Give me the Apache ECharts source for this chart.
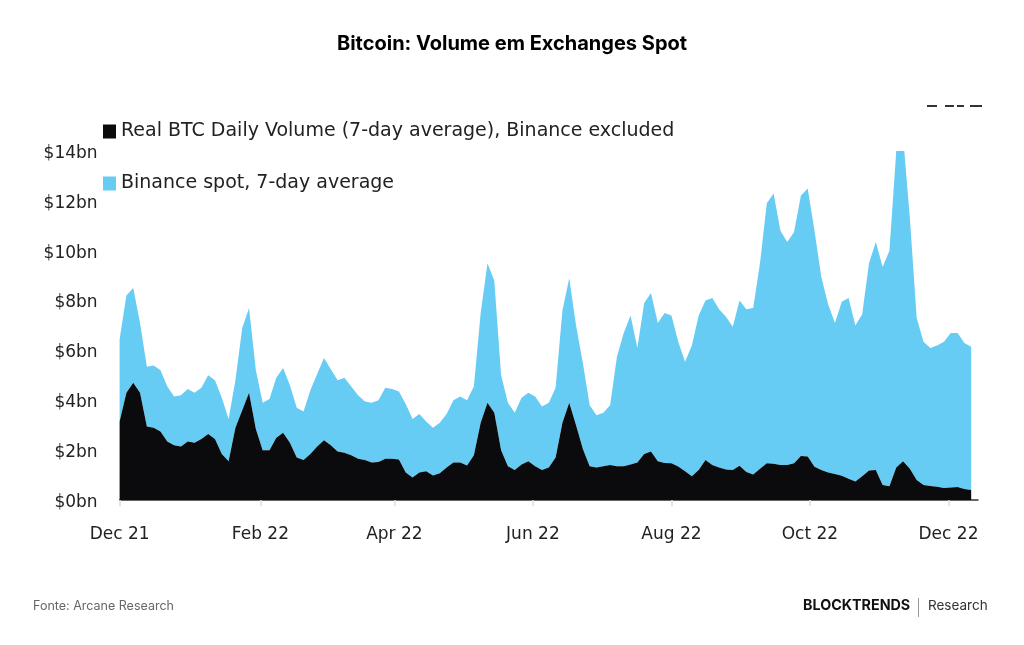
<!DOCTYPE html>
<html>
<head>
<meta charset="utf-8">
<script src="https://cdn.jsdelivr.net/npm/echarts@6/dist/echarts.min.js"></script>
<style>
  html, body { margin: 0; padding: 0; background: #fff; }
  #main { width: 1024px; height: 645px; }
</style>
</head>
<body>
<div id="main"></div>
<script>
// samples every 3 days from 1 Dec 2021
const startDate = '2021-12-01'
const stepDays = 3
const axisDays = 379 // 1 Dec 2021 .. 14 Dec 2022

// Real BTC daily volume (7d avg), Binance excluded, $bn
const realVolume = [
  3.15, 4.3, 4.7, 4.3, 2.95, 2.9, 2.75, 2.35, 2.2, 2.15, 2.35, 2.3, 2.45, 2.65, 2.45, 1.85, 1.55, 2.9,
  3.6, 4.3, 2.85, 2.0, 2.0, 2.5, 2.7, 2.3, 1.7, 1.6, 1.85, 2.15, 2.4, 2.2, 1.95, 1.9, 1.8, 1.65,
  1.6, 1.5, 1.52, 1.65, 1.65, 1.62, 1.1, 0.9, 1.1, 1.15, 0.98, 1.07, 1.3, 1.5, 1.5, 1.38, 1.8, 3.1,
  3.9, 3.5, 2.0, 1.35, 1.2, 1.42, 1.55, 1.35, 1.2, 1.3, 1.7, 3.1, 3.9, 3.0, 2.05, 1.35, 1.3, 1.35,
  1.4, 1.35, 1.35, 1.42, 1.5, 1.85, 1.95, 1.55, 1.48, 1.47, 1.34, 1.15, 0.95, 1.2, 1.6, 1.4, 1.3, 1.22,
  1.2, 1.37, 1.12, 1.02, 1.25, 1.47, 1.45, 1.4, 1.4, 1.47, 1.77, 1.74, 1.33, 1.2, 1.1, 1.04, 0.97, 0.85,
  0.74, 0.95, 1.18, 1.2, 0.6, 0.55, 1.3, 1.55, 1.25, 0.8, 0.6, 0.56, 0.53, 0.48, 0.5, 0.52, 0.44, 0.4
]

// Binance spot volume (7d avg), $bn
const binanceSpot = [
  3.3, 3.9, 3.8, 2.8, 2.4, 2.5, 2.45, 2.2, 1.95, 2.05, 2.1, 2.0, 2.05, 2.35, 2.35, 2.25, 1.7, 1.9,
  3.3, 3.4, 2.35, 1.9, 2.05, 2.4, 2.6, 2.3, 2.0, 1.95, 2.55, 2.9, 3.3, 3.05, 2.85, 3.0, 2.75, 2.55,
  2.35, 2.4, 2.48, 2.85, 2.8, 2.73, 2.75, 2.35, 2.35, 2.0, 1.92, 2.03, 2.15, 2.5, 2.65, 2.62, 2.75, 4.4,
  5.6, 5.3, 3.0, 2.55, 2.3, 2.68, 2.75, 2.8, 2.55, 2.6, 2.8, 4.5, 5.0, 4.0, 3.45, 2.45, 2.1, 2.15,
  2.4, 4.4, 5.35, 5.98, 4.6, 6.05, 6.35, 5.55, 6.02, 5.93, 5.01, 4.4, 5.25, 6.2, 6.4, 6.7, 6.35, 6.13,
  5.75, 6.63, 6.53, 6.68, 8.25, 10.43, 10.85, 9.4, 8.95, 9.28, 10.43, 10.76, 9.47, 7.75, 6.75, 6.06, 6.98, 7.25,
  6.26, 6.5, 8.32, 9.15, 8.75, 9.45, 12.7, 13.05, 10.05, 6.5, 5.75, 5.54, 5.67, 5.87, 6.2, 6.18, 5.86, 5.75
]

// x-axis labels
const tickDates = ['2021-12-01', '2022-02-01', '2022-04-01', '2022-06-01', '2022-08-01', '2022-10-01', '2022-12-01']
const tickLabels = ['Dec 21', 'Feb 22', 'Apr 22', 'Jun 22', 'Aug 22', 'Oct 22', 'Dec 22']

const seriesNames = ['Real BTC Daily Volume (7-day average), Binance excluded', 'Binance spot, 7-day average']

const DAY = 86400000
const t0 = Date.parse(startDate)
const isoDay = t => new Date(t).toISOString().slice(0, 10)
const categories = []
for (let i = 0; i < axisDays; i++) categories.push(isoDay(t0 + i * DAY))
const sampleDates = realVolume.map((v, i) => isoDay(t0 + i * stepDays * DAY))
const showTick = (idx, val) => tickDates.indexOf(val) >= 0

const chart = echarts.init(document.getElementById('main'), null, { renderer: 'canvas' })

const axisFont = 'DejaVu Sans'

chart.setOption({
  animation: false,
  backgroundColor: '#fff',
  title: {
    text: 'Bitcoin: Volume em Exchanges Spot',
    left: 'center',
    top: 29,
    textStyle: { fontFamily: 'Inter', fontWeight: 700, fontSize: 20, color: '#000' }
  },
  legend: {
    orient: 'vertical',
    left: 98,
    top: 117,
    itemGap: 33,
    itemWidth: 13,
    itemHeight: 14,
    icon: 'rect',
    selectedMode: false,
    data: seriesNames,
    textStyle: { fontFamily: axisFont, fontSize: 19, color: '#222' }
  },
  grid: { left: 119.6, right: 46, top: 151, bottom: 145 },
  xAxis: {
    type: 'category',
    data: categories,
    boundaryGap: false,
    splitLine: { show: false },
    axisLine: { show: true, lineStyle: { color: '#333', width: 1.5 } },
    axisTick: { show: true, interval: showTick, length: 6, lineStyle: { color: '#ddd', width: 1.5 } },
    axisLabel: {
      interval: showTick,
      formatter: v => tickLabels[tickDates.indexOf(v)] || '',
      margin: 26,
      fontFamily: axisFont,
      fontSize: 17,
      color: '#222'
    }
  },
  yAxis: {
    type: 'value',
    min: 0,
    max: 14,
    interval: 2,
    splitLine: { show: false },
    axisLine: { show: false },
    axisTick: { show: false },
    axisLabel: {
      formatter: v => '$' + v + 'bn',
      margin: 22,
      verticalAlign: 'top',
      padding: [-6, 0, 0, 0],
      fontFamily: axisFont,
      fontSize: 17,
      color: '#222'
    }
  },
  series: [
    {
      name: seriesNames[0],
      type: 'line',
      stack: 'vol',
      data: sampleDates.map((d, i) => [d, realVolume[i]]),
      showSymbol: false,
      color: '#0b0b0d',
      lineStyle: { width: 0 },
      areaStyle: { color: '#0b0b0d', opacity: 1 },
      z: 3
    },
    {
      name: seriesNames[1],
      type: 'line',
      stack: 'vol',
      data: sampleDates.map((d, i) => [d, binanceSpot[i]]),
      showSymbol: false,
      color: '#66ccf4',
      lineStyle: { width: 0 },
      areaStyle: { color: '#66ccf4', opacity: 1 },
      z: 2
    }
  ],
  graphic: [
    // remnant of a cropped logo, top right
    { type: 'rect', shape: { x: 927, y: 105, width: 10, height: 2 }, style: { fill: '#333' } },
    { type: 'rect', shape: { x: 945, y: 105, width: 9, height: 2 }, style: { fill: '#333' } },
    { type: 'rect', shape: { x: 957, y: 105, width: 7, height: 2 }, style: { fill: '#333' } },
    { type: 'rect', shape: { x: 970, y: 105, width: 12, height: 2 }, style: { fill: '#333' } },
    {
      type: 'text', left: 33, top: 600,
      style: { text: 'Fonte: Arcane Research', font: '12.5px Inter', fill: '#666' }
    },
    {
      type: 'text', left: 803, top: 599,
      style: { text: 'BLOCKTRENDS', font: 'bold 14.3px Inter', fill: '#111' }
    },
    { type: 'rect', shape: { x: 918, y: 598, width: 1, height: 19 }, style: { fill: '#999' } },
    {
      type: 'text', left: 928, top: 599,
      style: { text: 'Research', font: '13.5px Inter', fill: '#333' }
    }
  ]
})
</script>
</body>
</html>
